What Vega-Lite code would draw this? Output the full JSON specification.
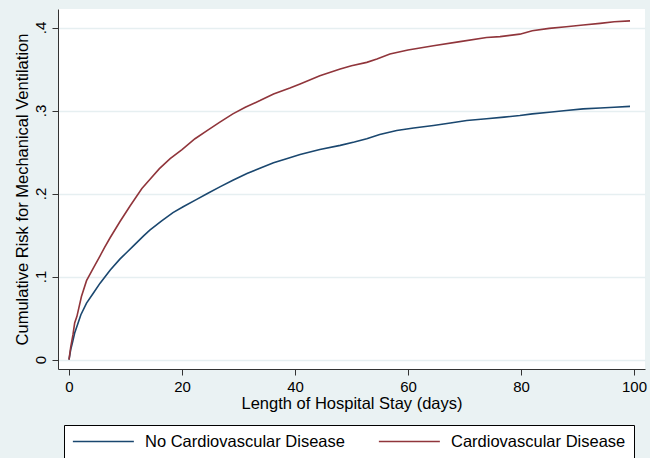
{
  "$schema": "https://vega.github.io/schema/vega-lite/v6.json",
  "autosize": {"type": "none"},
  "padding": {"left": 58, "top": 9, "right": 5, "bottom": 89},
  "width": 587,
  "height": 360,
  "background": "#eaf2f3",
  "config": {
    "view": {"fill": "white", "stroke": null},
    "font": "Liberation Sans",
    "axis": {
      "domainColor": "#333333",
      "tickColor": "#333333",
      "labelColor": "#000000",
      "titleColor": "#000000",
      "titleFontWeight": "normal",
      "labelFont": "Liberation Sans",
      "titleFont": "Liberation Sans"
    }
  },
  "data": {
    "values": [
      {"t": 0, "risk": 0, "group": "No Cardiovascular Disease"},
      {"t": 0.3, "risk": 0.012, "group": "No Cardiovascular Disease"},
      {"t": 0.6, "risk": 0.02, "group": "No Cardiovascular Disease"},
      {"t": 1.0, "risk": 0.032, "group": "No Cardiovascular Disease"},
      {"t": 1.5, "risk": 0.042, "group": "No Cardiovascular Disease"},
      {"t": 2.1, "risk": 0.054, "group": "No Cardiovascular Disease"},
      {"t": 3.1, "risk": 0.068, "group": "No Cardiovascular Disease"},
      {"t": 4.2, "risk": 0.079, "group": "No Cardiovascular Disease"},
      {"t": 5.5, "risk": 0.092, "group": "No Cardiovascular Disease"},
      {"t": 7.3, "risk": 0.108, "group": "No Cardiovascular Disease"},
      {"t": 9.0, "risk": 0.121, "group": "No Cardiovascular Disease"},
      {"t": 10.2, "risk": 0.129, "group": "No Cardiovascular Disease"},
      {"t": 11.4, "risk": 0.137, "group": "No Cardiovascular Disease"},
      {"t": 13.2, "risk": 0.149, "group": "No Cardiovascular Disease"},
      {"t": 14.3, "risk": 0.156, "group": "No Cardiovascular Disease"},
      {"t": 16.4, "risk": 0.167, "group": "No Cardiovascular Disease"},
      {"t": 18.4, "risk": 0.177, "group": "No Cardiovascular Disease"},
      {"t": 20.2, "risk": 0.184, "group": "No Cardiovascular Disease"},
      {"t": 22.6, "risk": 0.193, "group": "No Cardiovascular Disease"},
      {"t": 24.5, "risk": 0.2, "group": "No Cardiovascular Disease"},
      {"t": 26.7, "risk": 0.208, "group": "No Cardiovascular Disease"},
      {"t": 29, "risk": 0.216, "group": "No Cardiovascular Disease"},
      {"t": 31.5, "risk": 0.224, "group": "No Cardiovascular Disease"},
      {"t": 34, "risk": 0.231, "group": "No Cardiovascular Disease"},
      {"t": 36.2, "risk": 0.237, "group": "No Cardiovascular Disease"},
      {"t": 38.5, "risk": 0.242, "group": "No Cardiovascular Disease"},
      {"t": 40.9, "risk": 0.247, "group": "No Cardiovascular Disease"},
      {"t": 44.4, "risk": 0.253, "group": "No Cardiovascular Disease"},
      {"t": 48, "risk": 0.258, "group": "No Cardiovascular Disease"},
      {"t": 50.5, "risk": 0.262, "group": "No Cardiovascular Disease"},
      {"t": 52.7, "risk": 0.266, "group": "No Cardiovascular Disease"},
      {"t": 55, "risk": 0.271, "group": "No Cardiovascular Disease"},
      {"t": 58, "risk": 0.276, "group": "No Cardiovascular Disease"},
      {"t": 61, "risk": 0.279, "group": "No Cardiovascular Disease"},
      {"t": 64.5, "risk": 0.282, "group": "No Cardiovascular Disease"},
      {"t": 67.5, "risk": 0.285, "group": "No Cardiovascular Disease"},
      {"t": 70.4, "risk": 0.288, "group": "No Cardiovascular Disease"},
      {"t": 73.9, "risk": 0.29, "group": "No Cardiovascular Disease"},
      {"t": 77, "risk": 0.292, "group": "No Cardiovascular Disease"},
      {"t": 79.8, "risk": 0.294, "group": "No Cardiovascular Disease"},
      {"t": 82, "risk": 0.296, "group": "No Cardiovascular Disease"},
      {"t": 85, "risk": 0.298, "group": "No Cardiovascular Disease"},
      {"t": 88, "risk": 0.3, "group": "No Cardiovascular Disease"},
      {"t": 91, "risk": 0.302, "group": "No Cardiovascular Disease"},
      {"t": 94, "risk": 0.303, "group": "No Cardiovascular Disease"},
      {"t": 96.5, "risk": 0.304, "group": "No Cardiovascular Disease"},
      {"t": 99.3, "risk": 0.305, "group": "No Cardiovascular Disease"},
      {"t": 0, "risk": 0, "group": "Cardiovascular Disease"},
      {"t": 0.3, "risk": 0.015, "group": "Cardiovascular Disease"},
      {"t": 0.7, "risk": 0.03, "group": "Cardiovascular Disease"},
      {"t": 1.0, "risk": 0.044, "group": "Cardiovascular Disease"},
      {"t": 1.4, "risk": 0.052, "group": "Cardiovascular Disease"},
      {"t": 2.2, "risk": 0.076, "group": "Cardiovascular Disease"},
      {"t": 3.1, "risk": 0.095, "group": "Cardiovascular Disease"},
      {"t": 4.3, "risk": 0.11, "group": "Cardiovascular Disease"},
      {"t": 5.5, "risk": 0.125, "group": "Cardiovascular Disease"},
      {"t": 6.3, "risk": 0.135, "group": "Cardiovascular Disease"},
      {"t": 7.3, "risk": 0.147, "group": "Cardiovascular Disease"},
      {"t": 9.0, "risk": 0.166, "group": "Cardiovascular Disease"},
      {"t": 10.8, "risk": 0.185, "group": "Cardiovascular Disease"},
      {"t": 12.9, "risk": 0.206, "group": "Cardiovascular Disease"},
      {"t": 14.3, "risk": 0.217, "group": "Cardiovascular Disease"},
      {"t": 16, "risk": 0.23, "group": "Cardiovascular Disease"},
      {"t": 17.9, "risk": 0.242, "group": "Cardiovascular Disease"},
      {"t": 20, "risk": 0.253, "group": "Cardiovascular Disease"},
      {"t": 22.3, "risk": 0.266, "group": "Cardiovascular Disease"},
      {"t": 24.5, "risk": 0.276, "group": "Cardiovascular Disease"},
      {"t": 26.7, "risk": 0.286, "group": "Cardiovascular Disease"},
      {"t": 29, "risk": 0.296, "group": "Cardiovascular Disease"},
      {"t": 31.2, "risk": 0.304, "group": "Cardiovascular Disease"},
      {"t": 33.8, "risk": 0.312, "group": "Cardiovascular Disease"},
      {"t": 36.2, "risk": 0.32, "group": "Cardiovascular Disease"},
      {"t": 39.1, "risk": 0.327, "group": "Cardiovascular Disease"},
      {"t": 40.9, "risk": 0.332, "group": "Cardiovascular Disease"},
      {"t": 44.4, "risk": 0.342, "group": "Cardiovascular Disease"},
      {"t": 48, "risk": 0.35, "group": "Cardiovascular Disease"},
      {"t": 50, "risk": 0.354, "group": "Cardiovascular Disease"},
      {"t": 52.7, "risk": 0.358, "group": "Cardiovascular Disease"},
      {"t": 54.5, "risk": 0.362, "group": "Cardiovascular Disease"},
      {"t": 56.8, "risk": 0.368, "group": "Cardiovascular Disease"},
      {"t": 60, "risk": 0.373, "group": "Cardiovascular Disease"},
      {"t": 64.5, "risk": 0.378, "group": "Cardiovascular Disease"},
      {"t": 69.2, "risk": 0.383, "group": "Cardiovascular Disease"},
      {"t": 73.9, "risk": 0.388, "group": "Cardiovascular Disease"},
      {"t": 76.3, "risk": 0.389, "group": "Cardiovascular Disease"},
      {"t": 79.8, "risk": 0.392, "group": "Cardiovascular Disease"},
      {"t": 82, "risk": 0.396, "group": "Cardiovascular Disease"},
      {"t": 85, "risk": 0.399, "group": "Cardiovascular Disease"},
      {"t": 88, "risk": 0.401, "group": "Cardiovascular Disease"},
      {"t": 91, "risk": 0.403, "group": "Cardiovascular Disease"},
      {"t": 94, "risk": 0.405, "group": "Cardiovascular Disease"},
      {"t": 96.5, "risk": 0.407, "group": "Cardiovascular Disease"},
      {"t": 99.3, "risk": 0.408, "group": "Cardiovascular Disease"}
    ]
  },
  "mark": {"type": "line", "strokeWidth": 1.6, "interpolate": "linear"},
  "encoding": {
    "x": {
      "field": "t",
      "type": "quantitative",
      "scale": {"domain": [-1.95, 101.95], "nice": false, "zero": false},
      "axis": {
        "title": "Length of Hospital Stay (days)",
        "values": [0, 20, 40, 60, 80, 100],
        "grid": false,
        "tickSize": 6,
        "labelPadding": 4,
        "labelFontSize": 15,
        "titleFontSize": 16.5,
        "titlePadding": 1,
        "labelFlush": false
      }
    },
    "y": {
      "field": "risk",
      "type": "quantitative",
      "scale": {"domain": [-0.0114, 0.4223], "nice": false, "zero": false},
      "axis": {
        "title": "Cumulative Risk for Mechanical Ventilation",
        "values": [0, 0.1, 0.2, 0.3, 0.4],
        "labelExpr": "datum.value == 0 ? '0' : replace(format(datum.value, '.1f'), '0.', '.')",
        "grid": true,
        "gridColor": "#e6eff1",
        "gridWidth": 1.5,
        "tickSize": 6,
        "labelAngle": -90,
        "labelAlign": "center",
        "labelBaseline": "bottom",
        "labelPadding": 4,
        "labelFontSize": 15,
        "titleFontSize": 16.5,
        "titlePadding": 3,
        "labelFlush": false
      }
    },
    "color": {
      "field": "group",
      "type": "nominal",
      "scale": {
        "domain": ["No Cardiovascular Disease", "Cardiovascular Disease"],
        "range": ["#1a476f", "#90353b"]
      },
      "legend": {
        "title": null,
        "orient": "none",
        "legendX": 6,
        "legendY": 416,
        "direction": "horizontal",
        "columns": 2,
        "columnPadding": 30,
        "symbolType": "M-1,0H7",
        "symbolSize": 232.5,
        "symbolStrokeWidth": 1.5,
        "labelOffset": 56,
        "labelFontSize": 16.5,
        "labelColor": "#000000",
        "labelFont": "Liberation Sans",
        "labelLimit": 400,
        "padding": 8,
        "fillColor": "white",
        "strokeColor": "#000000",
        "cornerRadius": 0
      }
    }
  }
}
